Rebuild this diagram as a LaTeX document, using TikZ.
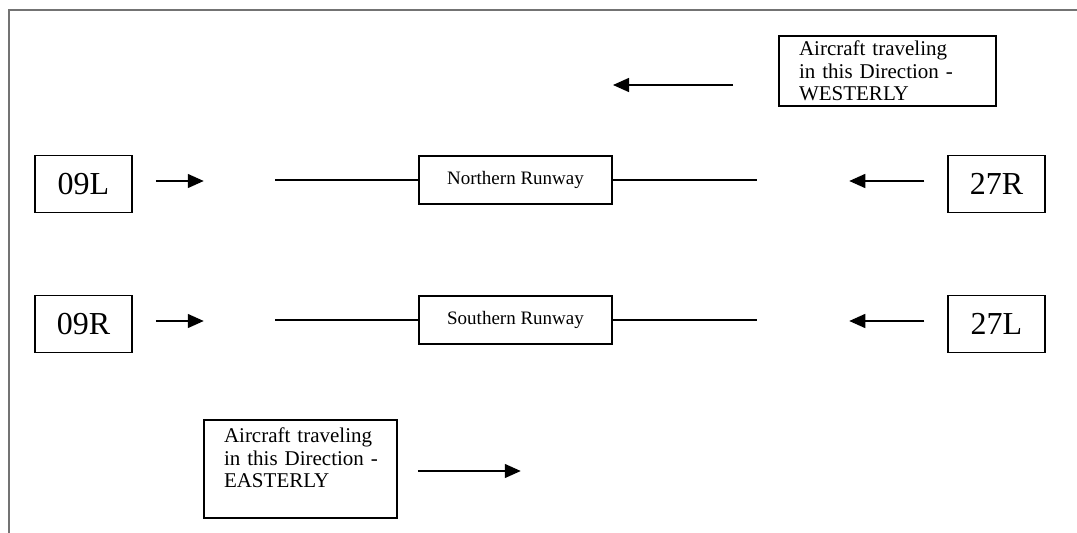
\documentclass[tikz,border=0pt]{standalone}
\usepackage{fontspec}
\setmainfont{Liberation Serif}
\usetikzlibrary{arrows.meta}

\begin{document}
\begin{tikzpicture}
[x=1pt,y=-1pt,
  endDecorate/.style={draw,line width=1.5pt,minimum width=97pt,minimum height=57pt,inner sep=0pt,font=\fontsize{32}{32}\selectfont},%
  runwayDecorate/.style={draw,line width=1.5pt,fill=white,minimum width=193pt,minimum height=48pt,inner sep=0pt,font=\fontsize{19}{19}\selectfont},%
  noteDecorate/.style={draw,line width=1.5pt,inner xsep=20pt,inner ysep=0pt,align=left,font=\fontsize{21}{22.5}\selectfont},%
  lineDecorate/.style={line width=1.4pt},%
  arrowDecorate/.style={line width=1.4pt,-{Triangle[length=16pt,width=14pt]}}]
\useasboundingbox (0,0) rectangle (1077,533);
%% frame
\draw[black!55,line width=1.5pt] (1077,10) -- (9,10) -- (9,533);
%% runway ends and runways
\foreach \west/\east/\rwy/\y in {09L/27R/Northern/184, 09R/27L/Southern/324}
{
  \node (\west) at (83.5,\y) [endDecorate] {\west};
  \node (\east) at (996.5,\y) [endDecorate] {\east};
  \node (\rwy) at (515.5,\y-4) [runwayDecorate] {\rwy\ Runway};
  \coordinate (\rwy-w) at (275,\y-4);
  \coordinate (\rwy-e) at (757,\y-4);
  \draw[lineDecorate] (\rwy-w) -- (\rwy);
  \draw[lineDecorate] (\rwy) -- (\rwy-e);
  \draw[arrowDecorate] ([xshift=23pt,yshift=3pt]\west.east) -- ([xshift=71pt,yshift=3pt]\west.east);
  \draw[arrowDecorate] ([xshift=-23pt,yshift=3pt]\east.west) -- ([xshift=-98pt,yshift=3pt]\east.west);
}
%% direction notes
\node (westerly) at (887.5,71) [noteDecorate,text width=177pt,minimum height=70pt]
  {Aircraft traveling\\in this Direction -\\WESTERLY};
\coordinate (westerly-a) at (733,85);
\coordinate (westerly-b) at (613,85);
\draw[arrowDecorate] (westerly-a) -- (westerly-b);
\node (easterly) at (300.5,469) [noteDecorate,text width=153pt,minimum height=98pt]
  {\mbox{Aircraft traveling}\\\mbox{in this Direction -}\\EASTERLY\\~};
\draw[arrowDecorate] ([xshift=20pt,yshift=-2pt]easterly.east) -- ([xshift=123pt,yshift=-2pt]easterly.east);
\end{tikzpicture}
\end{document}
